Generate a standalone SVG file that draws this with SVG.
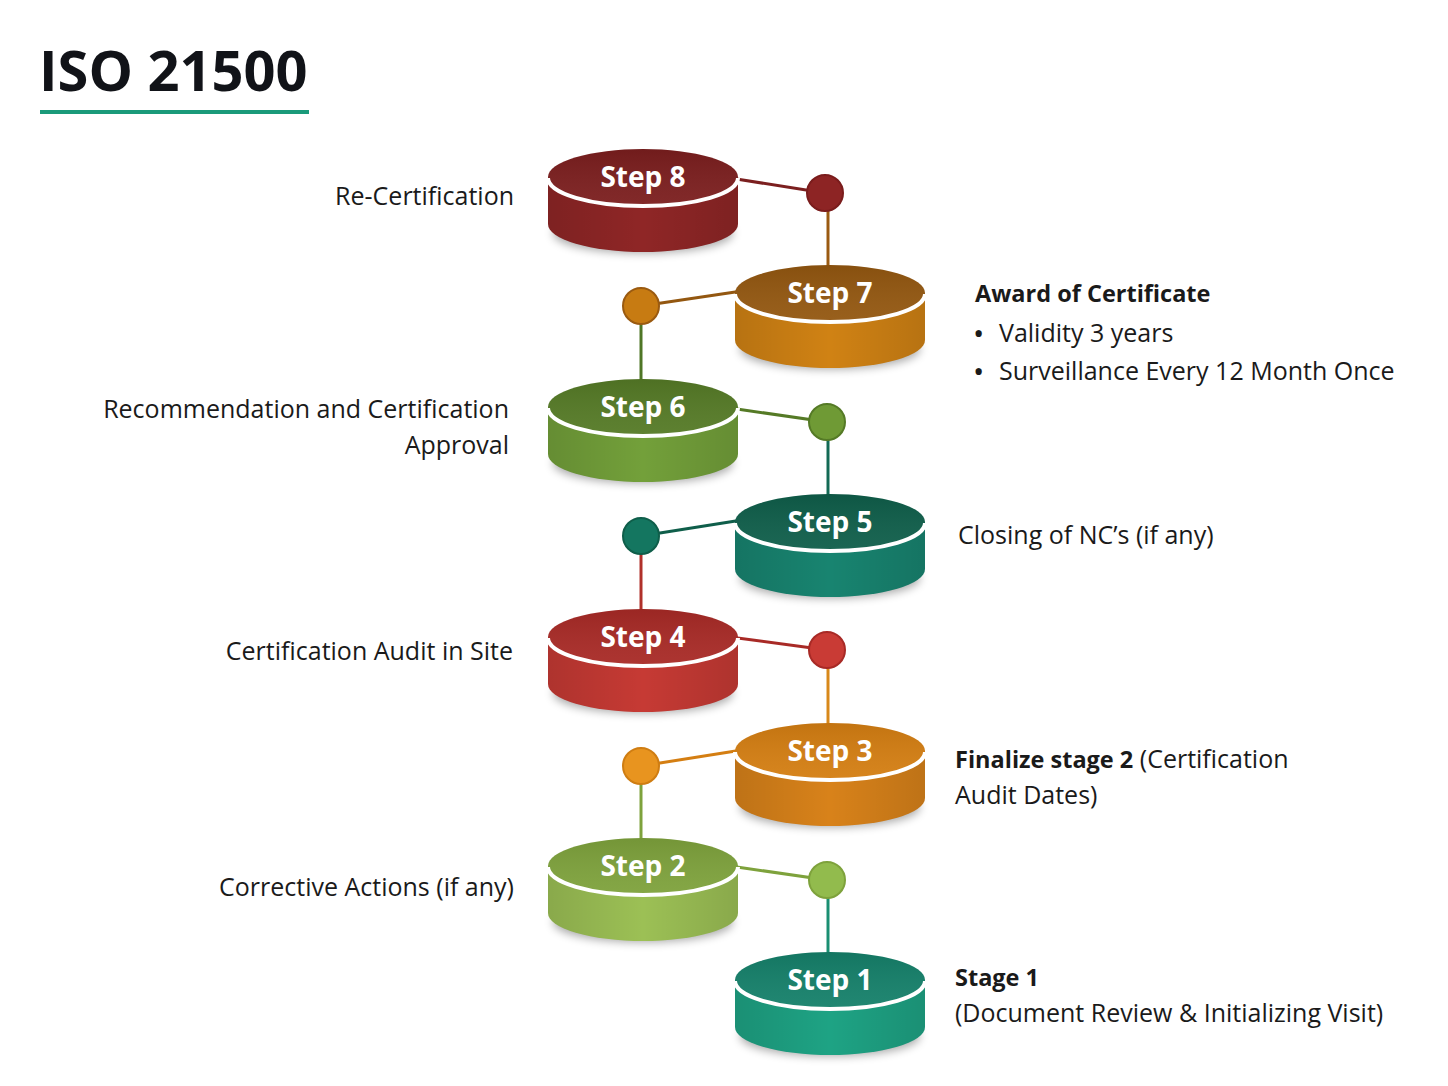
<svg xmlns="http://www.w3.org/2000/svg" width="1448" height="1086" viewBox="0 0 1448 1086">
<style>
.lbl{font-family:"Open Sans","Noto Sans",sans-serif;font-size:25px;fill:#1a1a1a}
.b{font-weight:bold;font-size:23.5px}
.bul{font-size:30px}
.st{font-family:"Open Sans","Noto Sans",sans-serif;font-size:28px;font-weight:bold;fill:#ffffff;text-anchor:middle}
.rim{fill:none;stroke:#ffffff;stroke-width:4}
.ln{fill:none;stroke-width:3}
.dot{stroke-width:2}
</style>
<defs>
<filter id="blur" x="-20%" y="-50%" width="140%" height="200%"><feGaussianBlur stdDeviation="5"/></filter>
<linearGradient id="shade" x1="0" y1="0" x2="1" y2="0">
<stop offset="0" stop-color="#000" stop-opacity="0.12"/>
<stop offset="0.5" stop-color="#000" stop-opacity="0"/>
<stop offset="1" stop-color="#000" stop-opacity="0.12"/>
</linearGradient>
<linearGradient id="topshade" x1="0" y1="0" x2="0" y2="1">
<stop offset="0" stop-color="#000" stop-opacity="0.08"/>
<stop offset="1" stop-color="#fff" stop-opacity="0.05"/>
</linearGradient>
<g id="cyl">
<ellipse cx="0" cy="56" rx="90" ry="20" fill="#000" opacity="0.35" filter="url(#blur)"/>
</g>
</defs>
<rect width="1448" height="1086" fill="#ffffff"/>

<g id="title">
<text x="39" y="91" font-family="'Open Sans','Noto Sans',sans-serif" font-size="56" font-weight="bold" fill="#111318">ISO 21500</text>
<rect x="40" y="110" width="269" height="4" fill="#1a9a7a"/>
</g>

<g id="connectors">
<line class="ln" x1="730" y1="178" x2="825" y2="193" stroke="#7b1f1f"/>
<line class="ln" x1="828" y1="205" x2="828" y2="270" stroke="#9a5a12"/>
<line class="ln" x1="742" y1="291" x2="641" y2="306" stroke="#935710"/>
<line class="ln" x1="641" y1="318" x2="641" y2="384" stroke="#4f7626"/>
<line class="ln" x1="730" y1="408" x2="827" y2="422" stroke="#557a26"/>
<line class="ln" x1="828" y1="434" x2="828" y2="498" stroke="#136a55"/>
<line class="ln" x1="742" y1="520" x2="641" y2="536" stroke="#0f5e4a"/>
<line class="ln" x1="641" y1="548" x2="641" y2="614" stroke="#b0302a"/>
<line class="ln" x1="730" y1="637" x2="827" y2="650" stroke="#a82a26"/>
<line class="ln" x1="828" y1="662" x2="828" y2="728" stroke="#d8881a"/>
<line class="ln" x1="742" y1="750" x2="641" y2="766" stroke="#d47e12"/>
<line class="ln" x1="641" y1="778" x2="641" y2="842" stroke="#7ea23c"/>
<line class="ln" x1="730" y1="866" x2="827" y2="880" stroke="#7ea23c"/>
<line class="ln" x1="828" y1="892" x2="828" y2="957" stroke="#1a8f72"/>
<circle class="dot" cx="825" cy="193" r="18" fill="#8d2424" stroke="#7a1c1c"/>
<circle class="dot" cx="641" cy="306" r="18" fill="#c77b12" stroke="#9a5a10"/>
<circle class="dot" cx="827" cy="422" r="18" fill="#6f9a35" stroke="#557a26"/>
<circle class="dot" cx="641" cy="536" r="18" fill="#147660" stroke="#0f5e4a"/>
<circle class="dot" cx="827" cy="650" r="18" fill="#c93b35" stroke="#a82a26"/>
<circle class="dot" cx="641" cy="766" r="18" fill="#e8941f" stroke="#cf7d12"/>
<circle class="dot" cx="827" cy="880" r="18" fill="#92bb4d" stroke="#7ea23c"/>
</g>

<g id="step8" transform="translate(643,177)">
<use href="#cyl"/>
<path d="M-95,0 V47 A95,28 0 0 0 95,47 V0 Z" fill="#8f2626"/>
<path d="M-95,0 V47 A95,28 0 0 0 95,47 V0 Z" fill="url(#shade)"/>
<ellipse rx="95" ry="28" fill="#7b1e1e"/>
<ellipse rx="95" ry="28" fill="url(#topshade)"/>
<path class="rim" d="M-95,1 A95,28 0 0 0 95,1"/>
<text class="st" x="0" y="10">Step 8</text>
</g>
<g id="step7" transform="translate(830,293)">
<use href="#cyl"/>
<path d="M-95,0 V47 A95,28 0 0 0 95,47 V0 Z" fill="#d08214"/>
<path d="M-95,0 V47 A95,28 0 0 0 95,47 V0 Z" fill="url(#shade)"/>
<ellipse rx="95" ry="28" fill="#935710"/>
<ellipse rx="95" ry="28" fill="url(#topshade)"/>
<path class="rim" d="M-95,1 A95,28 0 0 0 95,1"/>
<text class="st" x="0" y="10">Step 7</text>
</g>
<g id="step6" transform="translate(643,407)">
<use href="#cyl"/>
<path d="M-95,0 V47 A95,28 0 0 0 95,47 V0 Z" fill="#73a03a"/>
<path d="M-95,0 V47 A95,28 0 0 0 95,47 V0 Z" fill="url(#shade)"/>
<ellipse rx="95" ry="28" fill="#557a26"/>
<ellipse rx="95" ry="28" fill="url(#topshade)"/>
<path class="rim" d="M-95,1 A95,28 0 0 0 95,1"/>
<text class="st" x="0" y="10">Step 6</text>
</g>
<g id="step5" transform="translate(830,522)">
<use href="#cyl"/>
<path d="M-95,0 V47 A95,28 0 0 0 95,47 V0 Z" fill="#188470"/>
<path d="M-95,0 V47 A95,28 0 0 0 95,47 V0 Z" fill="url(#shade)"/>
<ellipse rx="95" ry="28" fill="#0f5e4a"/>
<ellipse rx="95" ry="28" fill="url(#topshade)"/>
<path class="rim" d="M-95,1 A95,28 0 0 0 95,1"/>
<text class="st" x="0" y="10">Step 5</text>
</g>
<g id="step4" transform="translate(643,637)">
<use href="#cyl"/>
<path d="M-95,0 V47 A95,28 0 0 0 95,47 V0 Z" fill="#c63a34"/>
<path d="M-95,0 V47 A95,28 0 0 0 95,47 V0 Z" fill="url(#shade)"/>
<ellipse rx="95" ry="28" fill="#a82a26"/>
<ellipse rx="95" ry="28" fill="url(#topshade)"/>
<path class="rim" d="M-95,1 A95,28 0 0 0 95,1"/>
<text class="st" x="0" y="10">Step 4</text>
</g>
<g id="step3" transform="translate(830,751)">
<use href="#cyl"/>
<path d="M-95,0 V47 A95,28 0 0 0 95,47 V0 Z" fill="#d8821a"/>
<path d="M-95,0 V47 A95,28 0 0 0 95,47 V0 Z" fill="url(#shade)"/>
<ellipse rx="95" ry="28" fill="#d47e12"/>
<ellipse rx="95" ry="28" fill="url(#topshade)"/>
<path class="rim" d="M-95,1 A95,28 0 0 0 95,1"/>
<text class="st" x="0" y="10">Step 3</text>
</g>
<g id="step2" transform="translate(643,866)">
<use href="#cyl"/>
<path d="M-95,0 V47 A95,28 0 0 0 95,47 V0 Z" fill="#9cc055"/>
<path d="M-95,0 V47 A95,28 0 0 0 95,47 V0 Z" fill="url(#shade)"/>
<ellipse rx="95" ry="28" fill="#7ea23c"/>
<ellipse rx="95" ry="28" fill="url(#topshade)"/>
<path class="rim" d="M-95,1 A95,28 0 0 0 95,1"/>
<text class="st" x="0" y="10">Step 2</text>
</g>
<g id="step1" transform="translate(830,980)">
<use href="#cyl"/>
<path d="M-95,0 V47 A95,28 0 0 0 95,47 V0 Z" fill="#1ea384"/>
<path d="M-95,0 V47 A95,28 0 0 0 95,47 V0 Z" fill="url(#shade)"/>
<ellipse rx="95" ry="28" fill="#15806a"/>
<ellipse rx="95" ry="28" fill="url(#topshade)"/>
<path class="rim" d="M-95,1 A95,28 0 0 0 95,1"/>
<text class="st" x="0" y="10">Step 1</text>
</g>

<g id="labels">
<text class="lbl" x="514" y="205" text-anchor="end">Re-Certification</text>
<text class="lbl b" x="975" y="302">Award of Certificate</text>
<text class="lbl bul" x="973" y="344">•</text>
<text class="lbl" x="999" y="342">Validity 3 years</text>
<text class="lbl bul" x="973" y="382">•</text>
<text class="lbl" x="999" y="380">Surveillance Every 12 Month Once</text>
<text class="lbl" x="509" y="418" text-anchor="end">Recommendation and Certification</text>
<text class="lbl" x="509" y="454" text-anchor="end">Approval</text>
<text class="lbl" x="958" y="544">Closing of NC’s (if any)</text>
<text class="lbl" x="513" y="660" text-anchor="end">Certification Audit in Site</text>
<text class="lbl" x="955" y="768"><tspan class="b">Finalize stage 2</tspan> (Certification</text>
<text class="lbl" x="955" y="804">Audit Dates)</text>
<text class="lbl" x="514" y="896" text-anchor="end">Corrective Actions (if any)</text>
<text class="lbl b" x="955" y="986">Stage 1</text>
<text class="lbl" x="955" y="1022">(Document Review &amp; Initializing Visit)</text>
</g>
</svg>
